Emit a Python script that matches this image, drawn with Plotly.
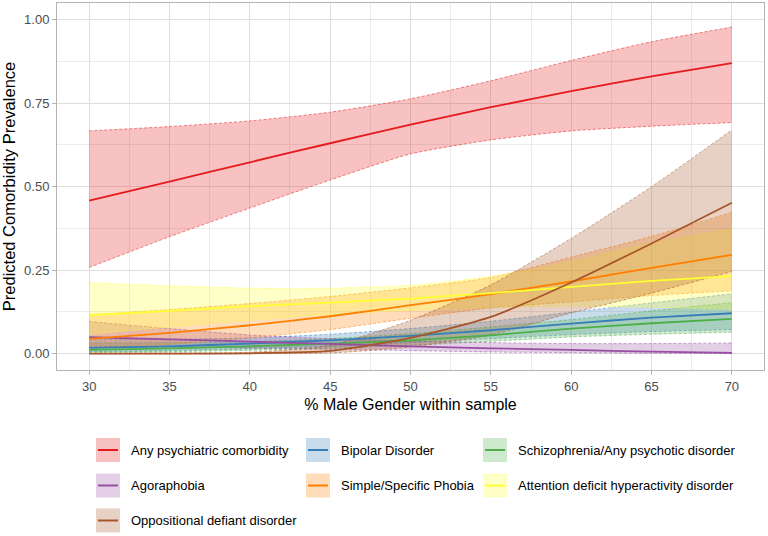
import plotly.graph_objects as go

# ---------------- data ----------------
male_pct = [30, 35, 40, 45, 50, 55, 60, 65, 70]

series_names = [
    "Any psychiatric comorbidity",
    "Bipolar Disorder",
    "Schizophrenia/Any psychotic disorder",
    "Agoraphobia",
    "Simple/Specific Phobia",
    "Attention deficit hyperactivity disorder",
    "Oppositional defiant disorder",
]

any_fit = [0.458, 0.515, 0.573, 0.630, 0.686, 0.738, 0.786, 0.830, 0.870]
any_lo = [0.258, 0.350, 0.436, 0.520, 0.598, 0.640, 0.667, 0.681, 0.692]
any_hi = [0.667, 0.680, 0.697, 0.723, 0.763, 0.817, 0.878, 0.934, 0.978]

bip_fit = [0.017, 0.022, 0.030, 0.040, 0.053, 0.070, 0.090, 0.108, 0.121]
bip_lo = [0.006, 0.009, 0.014, 0.022, 0.033, 0.045, 0.057, 0.066, 0.072]
bip_hi = [0.042, 0.043, 0.047, 0.058, 0.075, 0.097, 0.124, 0.152, 0.179]

scz_fit = [0.011, 0.016, 0.022, 0.030, 0.040, 0.055, 0.075, 0.091, 0.104]
scz_lo = [0.004, 0.006, 0.010, 0.016, 0.025, 0.037, 0.050, 0.058, 0.064]
scz_hi = [0.032, 0.033, 0.036, 0.045, 0.060, 0.080, 0.102, 0.128, 0.153]

ago_fit = [0.049, 0.043, 0.036, 0.029, 0.022, 0.016, 0.011, 0.006, 0.002]
ago_lo = [0.022, 0.020, 0.017, 0.013, 0.009, 0.005, 0.003, 0.001, 0.000]
ago_hi = [0.096, 0.075, 0.056, 0.045, 0.038, 0.033, 0.030, 0.030, 0.032]

pho_fit = [0.044, 0.062, 0.085, 0.112, 0.145, 0.178, 0.216, 0.257, 0.296]
pho_lo = [0.016, 0.028, 0.047, 0.072, 0.106, 0.137, 0.155, 0.174, 0.188]
pho_hi = [0.117, 0.132, 0.150, 0.171, 0.197, 0.228, 0.289, 0.351, 0.423]

adhd_fit = [0.115, 0.128, 0.142, 0.153, 0.165, 0.181, 0.200, 0.218, 0.232]
adhd_lo = [0.058, 0.080, 0.100, 0.117, 0.130, 0.138, 0.142, 0.139, 0.133]
adhd_hi = [0.213, 0.203, 0.196, 0.196, 0.205, 0.231, 0.275, 0.331, 0.373]

odd_fit = [0.000, 0.000, 0.001, 0.008, 0.047, 0.110, 0.213, 0.330, 0.452]
odd_lo = [0.000, 0.000, 0.000, 0.002, 0.020, 0.056, 0.122, 0.181, 0.246]
odd_hi = [0.001, 0.002, 0.004, 0.025, 0.100, 0.206, 0.345, 0.500, 0.670]

y_ticks = [0.00, 0.25, 0.50, 0.75, 1.00]
x_ticks = [30, 35, 40, 45, 50, 55, 60, 65, 70]

fits = [any_fit, bip_fit, scz_fit, ago_fit, pho_fit, adhd_fit, odd_fit]
los = [any_lo, bip_lo, scz_lo, ago_lo, pho_lo, adhd_lo, odd_lo]
his = [any_hi, bip_hi, scz_hi, ago_hi, pho_hi, adhd_hi, odd_hi]

# ---------------- style ----------------
palette = ["#E41A1C", "#377EB8", "#4DAF4A", "#984EA3", "#FF7F00", "#FFFF33", "#A65628"]
FONT = "Liberation Sans, Arial, sans-serif"


def rgba(hex_color, a):
    h = hex_color.lstrip("#")
    r, g, b = int(h[0:2], 16), int(h[2:4], 16), int(h[4:6], 16)
    return f"rgba({r},{g},{b},{a})"


FILL_A = 0.27
SMOOTH = 0.6
DASH = "3px,2px"

fig = go.Figure()

# ribbons (all first, like ggplot's ribbon layer)
for name, col, lo, hi in zip(series_names, palette, los, his):
    fig.add_trace(go.Scatter(
        x=male_pct, y=lo, mode="lines",
        line=dict(color=rgba(col, 0.75), width=0.7, dash=DASH, shape="spline", smoothing=SMOOTH),
        showlegend=False, hoverinfo="skip",
    ))
    fig.add_trace(go.Scatter(
        x=male_pct, y=hi, mode="lines", fill="tonexty",
        fillcolor=rgba(col, FILL_A),
        line=dict(color=rgba(col, 0.75), width=0.7, dash=DASH, shape="spline", smoothing=SMOOTH),
        showlegend=False, hoverinfo="skip",
    ))

# fitted lines
for name, col, fit in zip(series_names, palette, fits):
    fig.add_trace(go.Scatter(
        x=male_pct, y=fit, mode="lines", name=name,
        line=dict(color=col, width=1.8, shape="spline", smoothing=SMOOTH),
        showlegend=False,
    ))

# ---------------- layout ----------------
W, H = 768, 536
ML, MR, MT, MB = 57, 4, 3, 166
PW, PH = W - ML - MR, H - MT - MB


def px_x(p):
    return (p - ML) / PW


def px_y(p):
    return (H - MB - p) / PH


fig.update_layout(
    width=W, height=H,
    margin=dict(l=ML, r=MR, t=MT, b=MB),
    paper_bgcolor="white", plot_bgcolor="white",
    font=dict(family=FONT, color="#4D4D4D"),
    showlegend=False,
)

fig.update_xaxes(
    range=[28, 72], tickvals=x_ticks, ticktext=[str(v) for v in x_ticks],
    showgrid=True, gridcolor="#DEDEDE", gridwidth=1,
    minor=dict(dtick=2.5, tick0=27.5, showgrid=True, gridcolor="#EBEBEB", gridwidth=0.6),
    showline=True, mirror=True, linecolor="#B3B3B3", linewidth=1,
    ticks="outside", ticklen=4, tickcolor="#B3B3B3", tickwidth=1,
    tickfont=dict(size=13, color="#4D4D4D", family=FONT),
    zeroline=False,
    title=dict(text="% Male Gender within sample", font=dict(size=16, color="black", family=FONT), standoff=6),
)
fig.update_yaxes(
    range=[-0.049, 1.05], tickvals=y_ticks, ticktext=[f"{v:.2f}" for v in y_ticks],
    showgrid=True, gridcolor="#DEDEDE", gridwidth=1,
    minor=dict(dtick=0.125, tick0=0.125, showgrid=True, gridcolor="#EBEBEB", gridwidth=0.6),
    showline=True, mirror=True, linecolor="#B3B3B3", linewidth=1,
    ticks="outside", ticklen=4, tickcolor="#B3B3B3", tickwidth=1,
    tickfont=dict(size=13, color="#4D4D4D", family=FONT),
    zeroline=False,
    title=dict(text="Predicted Comorbidity Prevalence", font=dict(size=16.5, color="black", family=FONT), standoff=6),
)

# ---------------- legend (ggplot-style, 3 columns, filled keys) ----------------
col_key_x = [96, 306, 483]
row_y = [450, 485.5, 520.5]
KEY_W, KEY_H = 24, 24
TEXT_GAP = 9
legend_slots = [(0, 0), (0, 1), (0, 2), (1, 0), (1, 1), (1, 2), (2, 0)]

shapes = []
annotations = []
for name, col, (r, c) in zip(series_names, palette, legend_slots):
    x0 = col_key_x[c]
    yc = row_y[r]
    shapes.append(dict(
        type="rect", xref="paper", yref="paper",
        x0=px_x(x0), x1=px_x(x0 + KEY_W),
        y0=px_y(yc + KEY_H / 2), y1=px_y(yc - KEY_H / 2),
        fillcolor=rgba(col, FILL_A), line=dict(width=0), layer="above",
    ))
    shapes.append(dict(
        type="line", xref="paper", yref="paper",
        x0=px_x(x0 + 2), x1=px_x(x0 + KEY_W - 2),
        y0=px_y(yc), y1=px_y(yc),
        line=dict(color=col, width=2), layer="above",
    ))
    annotations.append(dict(
        text=name, xref="paper", yref="paper",
        x=px_x(x0 + KEY_W + TEXT_GAP), y=px_y(yc),
        xanchor="left", yanchor="middle", showarrow=False,
        font=dict(size=13, color="black", family=FONT),
    ))

fig.update_layout(shapes=shapes, annotations=annotations)

fig.write_html(
    "out.html",
    config={"displayModeBar": False},
    post_script="document.body.style.margin='0';document.body.style.padding='0';",
)
